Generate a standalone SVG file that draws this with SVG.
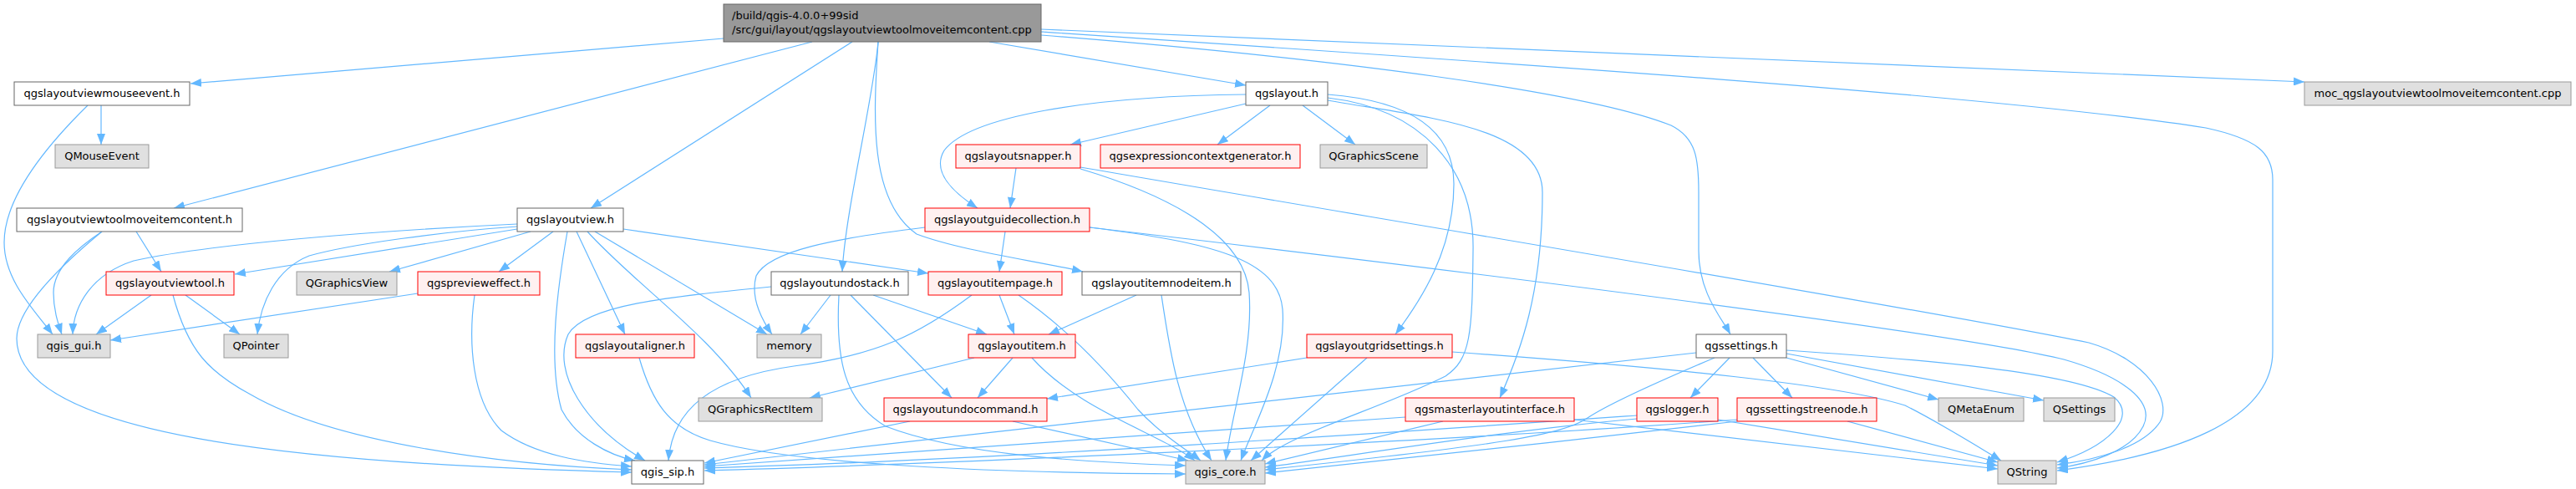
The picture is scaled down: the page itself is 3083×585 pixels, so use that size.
<svg xmlns="http://www.w3.org/2000/svg" width="3083" height="585" viewBox="0 0 3083 585">
<defs>
<marker id="ah" viewBox="0 0 13 10" refX="13" refY="5" markerWidth="13" markerHeight="10" markerUnits="userSpaceOnUse" orient="auto">
<path d="M0,0 L13,5 L0,10 z" fill="#63b8ff"/>
</marker>
<style>
text{font-family:"DejaVu Sans",sans-serif;font-size:13px;fill:#000;text-anchor:middle}
.main rect{fill:#999999;stroke:#666666;stroke-width:1}
.main text{text-anchor:start}
.w rect{fill:#ffffff;stroke:#666666;stroke-width:1}
.r rect{fill:#fff0f0;stroke:#ff0000;stroke-width:1}
.g rect{fill:#e0e0e0;stroke:#999999;stroke-width:1}
#edges path{fill:none;stroke:#63b8ff;stroke-width:1.2;marker-end:url(#ah)}
</style>
</defs>
<rect width="3083" height="585" fill="#ffffff"/>
<g id="edges">
<path d="M866,46 L228,100"/>
<path d="M972,50 L208,249"/>
<path d="M1020,50 L707,249"/>
<path d="M1051,50 C1045,120 1012,250 1008,325"/>
<path d="M1051,50 C1045,140 1040,240 1097,280 C1150,300 1240,312 1296,325"/>
<path d="M1184,50 L1491,102"/>
<path d="M1246,42 C1600,70 1900,110 2000,150 C2030,165 2033,190 2033,230 L2033,300 C2033,350 2060,380 2071,400"/>
<path d="M1246,35 L2758,98"/>
<path d="M1246,38 C1800,75 2400,115 2640,153 C2700,166 2720,182 2720,215 L2720,420 C2720,505 2600,545 2462,563"/>
<path d="M121,126 L121,173"/>
<path d="M105,126 C50,180 5,240 5,290 C5,335 40,370 63,400"/>
<path d="M163,277 L193,325"/>
<path d="M122,277 C95,295 64,320 64,350 C64,372 70,388 74,400"/>
<path d="M122,277 C70,320 20,370 20,405 C20,520 350,555 756,565"/>
<path d="M619,268 C450,276 250,292 160,312 C110,328 88,365 87,400"/>
<path d="M619,271 C530,277 420,292 370,306 C330,322 312,362 308,400"/>
<path d="M619,274 L281,328"/>
<path d="M635,277 L466,325"/>
<path d="M662,277 L597,325"/>
<path d="M679,277 C668,340 655,430 672,490 C690,525 730,545 760,551"/>
<path d="M690,277 L748,400"/>
<path d="M703,277 C760,340 850,400 899,476"/>
<path d="M712,277 L918,400"/>
<path d="M746,274 L1111,327"/>
<path d="M181,353 L115,400"/>
<path d="M222,353 L287,400"/>
<path d="M207,353 C225,420 250,445 300,472 C400,530 600,556 756,562"/>
<path d="M500,351 L132,407"/>
<path d="M568,353 C560,410 565,480 600,515 C640,545 700,554 756,558"/>
<path d="M765,428 C780,480 800,512 850,527 C950,556 1200,566 1419,567"/>
<path d="M923,343 C800,355 700,365 680,400 C660,445 700,510 772,551"/>
<path d="M994,353 L958,400"/>
<path d="M1004,353 C1000,430 1010,480 1060,510 C1150,545 1300,553 1419,557"/>
<path d="M1018,353 L1139,476"/>
<path d="M1045,353 L1181,400"/>
<path d="M1163,353 C1100,400 1050,425 950,438 C850,452 805,490 800,551"/>
<path d="M1196,353 L1214,400"/>
<path d="M1219,353 C1280,395 1330,450 1362,490 C1390,520 1420,538 1437,551"/>
<path d="M1360,353 L1255,400"/>
<path d="M1390,353 C1400,420 1410,490 1450,551"/>
<path d="M1166,428 L969,476"/>
<path d="M1212,428 L1170,476"/>
<path d="M1235,428 C1290,490 1390,520 1430,551"/>
<path d="M1089,504 L843,554"/>
<path d="M1212,504 L1422,551"/>
<path d="M1203,277 L1196,325"/>
<path d="M1107,272 C1000,285 920,300 905,330 C898,355 910,380 924,400"/>
<path d="M1304,272 C1450,290 1530,310 1535,370 C1540,440 1500,510 1485,551"/>
<path d="M1304,272 C1800,330 2350,400 2470,430 C2540,450 2580,480 2565,510 C2550,540 2500,555 2462,560"/>
<path d="M1216,201 L1209,249"/>
<path d="M1293,202 C1420,240 1490,290 1495,350 C1500,420 1475,490 1467,551"/>
<path d="M1293,200 C1700,270 2300,370 2500,410 C2570,430 2600,480 2585,505 C2565,535 2510,550 2462,556"/>
<path d="M1491,124 L1281,173"/>
<path d="M1520,126 L1457,173"/>
<path d="M1559,126 L1622,173"/>
<path d="M1491,113 C1300,115 1160,140 1130,180 C1115,205 1140,230 1170,249"/>
<path d="M1589,113 C1680,120 1740,150 1740,220 C1740,300 1700,360 1670,400"/>
<path d="M1589,117 C1700,130 1765,200 1763,300 C1762,400 1760,430 1730,450 C1650,490 1540,520 1510,551"/>
<path d="M1589,120 C1700,140 1846,150 1846,230 C1846,350 1820,420 1795,476"/>
<path d="M1564,428 L1253,477"/>
<path d="M1636,428 L1497,551"/>
<path d="M1738,421 C2000,440 2200,460 2280,485 C2320,505 2360,530 2395,551"/>
<path d="M1682,499 L843,558"/>
<path d="M1727,504 L1514,555"/>
<path d="M1884,502 L2391,561"/>
<path d="M2070,428 L2023,476"/>
<path d="M2098,428 L2145,476"/>
<path d="M2138,428 L2320,478"/>
<path d="M2138,423 L2446,479"/>
<path d="M2030,422 L843,556"/>
<path d="M2052,428 C2000,450 1930,480 1900,500 C1870,520 1800,532 1514,562"/>
<path d="M2138,419 C2300,430 2480,445 2530,475 C2560,500 2520,535 2462,553"/>
<path d="M1959,497 C1700,515 1200,550 843,560"/>
<path d="M1959,501 C1800,515 1600,548 1514,559"/>
<path d="M2056,502 L2391,557"/>
<path d="M2079,502 C1700,530 1100,556 843,563"/>
<path d="M2079,504 C1900,525 1650,552 1514,566"/>
<path d="M2211,504 L2391,553"/>
</g>
<g id="n_main" class="main"><rect x="866" y="5" width="380" height="45"/><text x="876" y="22.5">/build/qgis-4.0.0+99sid</text><text x="876" y="39.5">/src/gui/layout/qgslayoutviewtoolmoveitemcontent.cpp</text></g>
<g id="n_mouseevent" class="w"><rect x="17" y="98" width="210" height="28"/><text x="122" y="116">qgslayoutviewmouseevent.h</text></g>
<g id="n_layout" class="w"><rect x="1491" y="98" width="98" height="28"/><text x="1540" y="116">qgslayout.h</text></g>
<g id="n_moc" class="g"><rect x="2758" y="98" width="319" height="28"/><text x="2917.5" y="116">moc_qgslayoutviewtoolmoveitemcontent.cpp</text></g>
<g id="n_qmouseevent" class="g"><rect x="66" y="173" width="112" height="28"/><text x="122" y="191">QMouseEvent</text></g>
<g id="n_snapper" class="r"><rect x="1144" y="173" width="149" height="28"/><text x="1218.5" y="191">qgslayoutsnapper.h</text></g>
<g id="n_exprctx" class="r"><rect x="1317" y="173" width="239" height="28"/><text x="1436.5" y="191">qgsexpressioncontextgenerator.h</text></g>
<g id="n_qgraphicsscene" class="g"><rect x="1580" y="173" width="128" height="28"/><text x="1644" y="191">QGraphicsScene</text></g>
<g id="n_toolmove" class="w"><rect x="20" y="249" width="270" height="28"/><text x="155" y="267">qgslayoutviewtoolmoveitemcontent.h</text></g>
<g id="n_view" class="w"><rect x="619" y="249" width="127" height="28"/><text x="682.5" y="267">qgslayoutview.h</text></g>
<g id="n_guide" class="r"><rect x="1107" y="249" width="197" height="28"/><text x="1205.5" y="267">qgslayoutguidecollection.h</text></g>
<g id="n_viewtool" class="r"><rect x="127" y="325" width="153" height="28"/><text x="203.5" y="343">qgslayoutviewtool.h</text></g>
<g id="n_qgraphicsview" class="g"><rect x="355" y="325" width="120" height="28"/><text x="415" y="343">QGraphicsView</text></g>
<g id="n_preview" class="r"><rect x="500" y="325" width="146" height="28"/><text x="573" y="343">qgsprevieweffect.h</text></g>
<g id="n_undostack" class="w"><rect x="923" y="325" width="164" height="28"/><text x="1005" y="343">qgslayoutundostack.h</text></g>
<g id="n_itempage" class="r"><rect x="1111" y="325" width="160" height="28"/><text x="1191" y="343">qgslayoutitempage.h</text></g>
<g id="n_nodeitem" class="w"><rect x="1295" y="325" width="190" height="28"/><text x="1390" y="343">qgslayoutitemnodeitem.h</text></g>
<g id="n_gui" class="g"><rect x="45" y="400" width="87" height="28"/><text x="88.5" y="418">qgis_gui.h</text></g>
<g id="n_qpointer" class="g"><rect x="268" y="400" width="77" height="28"/><text x="306.5" y="418">QPointer</text></g>
<g id="n_aligner" class="r"><rect x="689" y="400" width="142" height="28"/><text x="760" y="418">qgslayoutaligner.h</text></g>
<g id="n_memory" class="g"><rect x="906" y="400" width="77" height="28"/><text x="944.5" y="418">memory</text></g>
<g id="n_item" class="r"><rect x="1159" y="400" width="128" height="28"/><text x="1223" y="418">qgslayoutitem.h</text></g>
<g id="n_grid" class="r"><rect x="1564" y="400" width="174" height="28"/><text x="1651" y="418">qgslayoutgridsettings.h</text></g>
<g id="n_settings" class="w"><rect x="2030" y="400" width="108" height="28"/><text x="2084" y="418">qgssettings.h</text></g>
<g id="n_rectitem" class="g"><rect x="836" y="476" width="148" height="28"/><text x="910" y="494">QGraphicsRectItem</text></g>
<g id="n_undocmd" class="r"><rect x="1058" y="476" width="195" height="28"/><text x="1155.5" y="494">qgslayoutundocommand.h</text></g>
<g id="n_master" class="r"><rect x="1682" y="476" width="202" height="28"/><text x="1783" y="494">qgsmasterlayoutinterface.h</text></g>
<g id="n_logger" class="r"><rect x="1959" y="476" width="97" height="28"/><text x="2007.5" y="494">qgslogger.h</text></g>
<g id="n_treenode" class="r"><rect x="2079" y="476" width="167" height="28"/><text x="2162.5" y="494">qgssettingstreenode.h</text></g>
<g id="n_qmetaenum" class="g"><rect x="2320" y="476" width="102" height="28"/><text x="2371" y="494">QMetaEnum</text></g>
<g id="n_qsettings" class="g"><rect x="2446" y="476" width="85" height="28"/><text x="2488.5" y="494">QSettings</text></g>
<g id="n_sip" class="w"><rect x="756" y="551" width="86" height="28"/><text x="799" y="569">qgis_sip.h</text></g>
<g id="n_core" class="g"><rect x="1419" y="551" width="95" height="28"/><text x="1466.5" y="569">qgis_core.h</text></g>
<g id="n_qstring" class="g"><rect x="2391" y="551" width="70" height="28"/><text x="2426" y="569">QString</text></g>
</svg>
